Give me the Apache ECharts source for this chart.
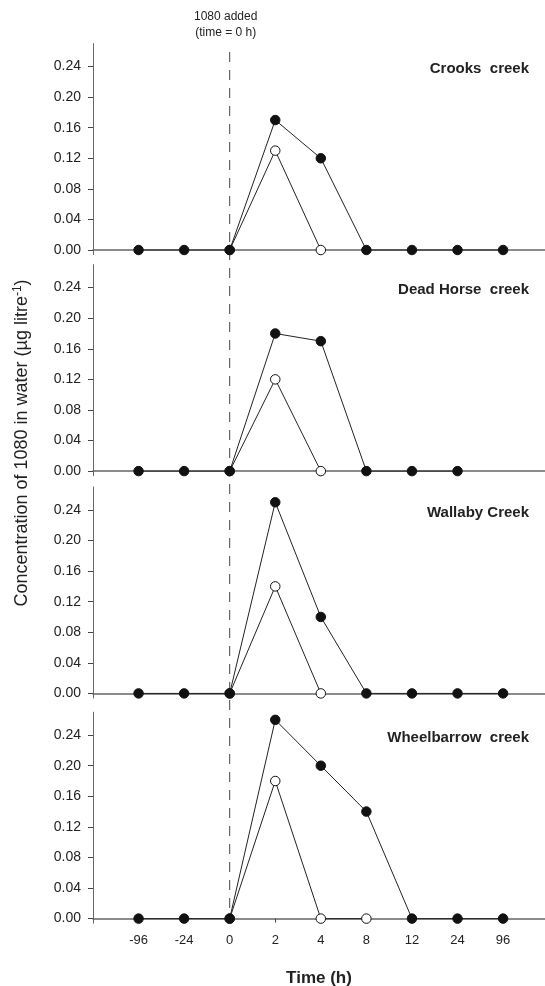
<!DOCTYPE html>
<html lang="en">
<head>
    <meta charset="utf-8">
    <title>1080 in creek water</title>
    <script src="https://cdn.jsdelivr.net/npm/echarts@6.0.0/dist/echarts.min.js"></script>
    <style>
        body { margin: 0; background: #fff; }
        #chart { width: 545px; height: 986px; }
    </style>
</head>
<body>
<div id="chart"></div>
<script>
    // sampling times (h), evenly spaced on the axis
    const timeLabels = ['-96', '-24', '0', '2', '4', '8', '12', '24', '96'];
    const yTicks = [0, 0.04, 0.08, 0.12, 0.16, 0.20, 0.24];

    const creekNames = ['Crooks  creek', 'Dead Horse  creek', 'Wallaby Creek', 'Wheelbarrow  creek'];

    // filled circles
    const crooksFilled = [0, 0, 0, 0.17, 0.12, 0, 0, 0, 0];
    const deadHorseFilled = [0, 0, 0, 0.18, 0.17, 0, 0, 0, null];
    const wallabyFilled = [0, 0, 0, 0.25, 0.10, 0, 0, 0, 0];
    const wheelbarrowFilled = [0, 0, 0, 0.26, 0.20, 0.14, 0, 0, 0];

    // open circles
    const crooksOpen = [null, null, 0, 0.13, 0, null, null, null, null];
    const deadHorseOpen = [null, null, 0, 0.12, 0, null, null, null, null];
    const wallabyOpen = [null, null, 0, 0.14, 0, null, null, null, null];
    const wheelbarrowOpen = [null, null, 0, 0.18, 0, 0, null, null, null];

    const filled = [crooksFilled, deadHorseFilled, wallabyFilled, wheelbarrowFilled];
    const open = [crooksOpen, deadHorseOpen, wallabyOpen, wheelbarrowOpen];

    const gridTops = [43.6, 264.7, 487, 712.2];
    const xPositions = timeLabels.map(function (t, i) { return i + 1; });
    const FONT = 'Arial, Liberation Sans, sans-serif';

    function toPairs(values) {
        const out = [];
        values.forEach(function (v, i) {
            if (v !== null) out.push([i + 1, v]);
        });
        return out;
    }

    const chart = echarts.init(document.getElementById('chart'), null, { renderer: 'canvas' });

    const grids = [], xAxes = [], yAxes = [], series = [], titles = [];
    gridTops.forEach(function (top, g) {
        const last = g === gridTops.length - 1;
        grids.push({ left: 93, right: 0, top: top, height: 211 });
        xAxes.push({
            type: 'value', gridIndex: g, min: 0, max: 9.92,
            axisLine: { onZero: true, lineStyle: { color: '#666', width: 1.5 } },
            axisTick: { show: last, customValues: xPositions, length: 4, lineStyle: { color: '#444' } },
            axisLabel: {
                show: last, customValues: xPositions, margin: 11,
                fontFamily: FONT, fontSize: 13, color: '#222',
                formatter: function (v) { return timeLabels[Math.round(v) - 1]; }
            },
            splitLine: { show: false }
        });
        yAxes.push({
            type: 'value', gridIndex: g, min: -0.006, max: 0.27,
            axisLine: { show: true, onZero: false, lineStyle: { color: '#666', width: 1 } },
            axisTick: { show: true, customValues: yTicks, length: 5, lineStyle: { color: '#444' } },
            axisLabel: {
                customValues: yTicks, margin: 12,
                fontFamily: FONT, fontSize: 14, color: '#222',
                formatter: function (v) { return v.toFixed(2); }
            },
            splitLine: { show: false }
        });
        titles.push({
            text: creekNames[g], right: 11, top: top + 13,
            textStyle: { fontFamily: FONT, fontSize: 15, fontWeight: 'bold', color: '#222' }
        });
        series.push({
            type: 'line', xAxisIndex: g, yAxisIndex: g, data: toPairs(open[g]),
            symbol: 'circle', symbolSize: 9.5, z: 3,
            lineStyle: { color: '#222', width: 1 },
            itemStyle: { color: '#fff', borderColor: '#111', borderWidth: 1 },
            animation: false
        });
        series.push({
            type: 'line', xAxisIndex: g, yAxisIndex: g, data: toPairs(filled[g]),
            symbol: 'circle', symbolSize: 9.5, z: 4,
            lineStyle: { color: '#222', width: 1 },
            itemStyle: { color: '#111', borderColor: '#111', borderWidth: 1 },
            animation: false
        });
    });

    chart.setOption({
        animation: false,
        title: titles,
        grid: grids,
        xAxis: xAxes,
        yAxis: yAxes,
        series: series
    });

    // dashed line where 1080 was added (time = 0 h), spanning all panels
    const zeroIdx = timeLabels.indexOf('0') + 1;
    const topPt = chart.convertToPixel({ gridIndex: 0 }, [zeroIdx, 0.259]);
    const botPt = chart.convertToPixel({ gridIndex: 3 }, [zeroIdx, 0]);
    // centre of the x axis, for the axis title
    const midPt = chart.convertToPixel({ gridIndex: 3 }, [9.92 / 2, 0]);

    chart.setOption({
        graphic: [
            {
                type: 'line', z: 1,
                shape: { x1: topPt[0], y1: topPt[1], x2: botPt[0], y2: botPt[1] },
                style: { stroke: '#444', lineWidth: 1, lineDash: [10, 8] }
            },
            {
                type: 'text', x: topPt[0] - 4, y: 9,
                style: {
                    text: '1080 added\n(time = 0 h)', textAlign: 'center', lineHeight: 16,
                    font: '12px ' + FONT, fill: '#222'
                }
            },
            {
                type: 'text', rotation: Math.PI / 2, x: 22, y: 443,
                style: {
                    text: '{t|Concentration of 1080 in water (\u00b5g litre}{s|-1}{t|)}',
                    textAlign: 'center', textVerticalAlign: 'middle',
                    rich: {
                        t: { font: '18px ' + FONT, fill: '#222' },
                        s: { font: '12px ' + FONT, fill: '#222', verticalAlign: 'top', padding: [0, 0, 9, 0] }
                    }
                }
            },
            {
                type: 'text', x: midPt[0], y: 978,
                style: {
                    text: 'Time (h)', textAlign: 'center', textVerticalAlign: 'middle',
                    font: 'bold 17px ' + FONT, fill: '#222'
                }
            }
        ]
    });
</script>
</body>
</html>
